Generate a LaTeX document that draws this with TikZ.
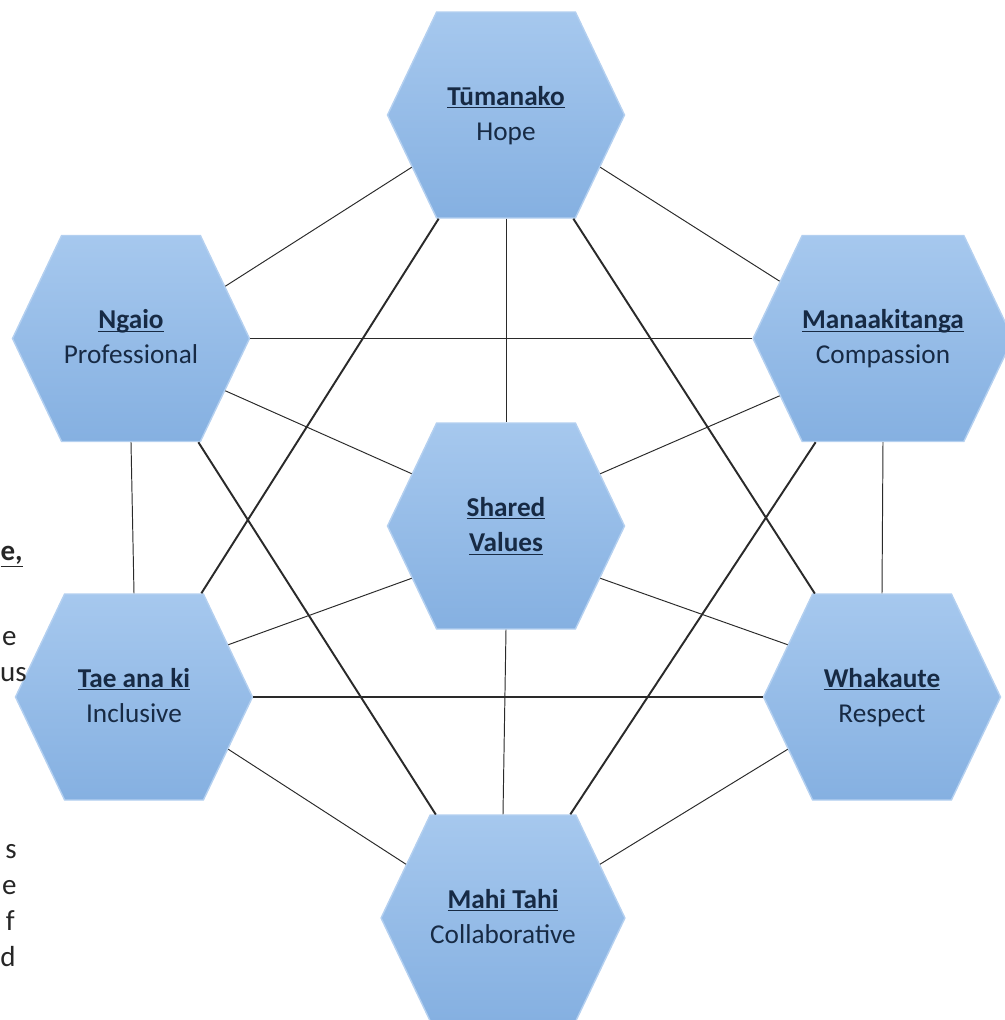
\documentclass[tikz,border=0pt]{standalone}
\usepackage{fontspec}
\setmainfont{Carlito}
\usetikzlibrary{shapes.symbols}
\definecolor{hextop}{HTML}{A6C8EE}
\definecolor{hexbottom}{HTML}{85B0E1}
\definecolor{hexedge}{HTML}{B4D0F0}
\definecolor{hextext}{HTML}{172A44}
\definecolor{linkgray}{HTML}{2A2A2A}
\newcommand{\hexul}[1]{\underline{\smash{\textbf{#1}}}}
\begin{document}
\begin{tikzpicture}[
  hexa/.style={
    signal,
    signal to=east and west,
    signal pointer angle=129,
    minimum width=4.74cm,
    minimum height=4.12cm,
    inner sep=0pt,
    text height=33pt,
    text depth=4pt,
    top color=hextop,
    bottom color=hexbottom,
    draw=hexedge,
    line width=0.8pt,
    align=center,
    text=hextext,
    font=\fontsize{15.5}{20}\selectfont
  },
  link/.style={draw=linkgray, line width=0.55pt},
  midlink/.style={draw=linkgray, line width=0.8pt},
  boldlink/.style={draw=linkgray, line width=1.1pt},
  side/.style={anchor=base east, inner sep=0pt, text=black!85, font=\fontsize{16.5}{20}\selectfont}
]
\useasboundingbox (0,0) rectangle (20.1,-20.4);
\node[hexa] (t) at (10.12,-2.30) {\hexul{Tūmanako}\\Hope};
\node[hexa] (n) at (2.62,-6.77) {\hexul{Ngaio}\\Professional};
\node[hexa] (m) at (17.66,-6.77) {\hexul{Manaakitanga}\\Compassion};
\node[hexa] (c) at (10.12,-10.52) {\hexul{Shared}\\\hexul{Values}};
\node[hexa] (l) at (2.68,-13.94) {\hexul{Tae ana ki}\\Inclusive};
\node[hexa] (w) at (17.64,-13.94) {\hexul{Whakaute}\\Respect};
\node[hexa] (b) at (10.06,-18.36) {\hexul{Mahi Tahi}\\Collaborative};
\node[side, font=\fontsize{16.5}{20}\selectfont\bfseries] (s1) at (0.46,-11.20) {\underline{e,}};
\node[side] (s2) at (0.34,-12.90) {e};
\node[side] (s3) at (0.54,-13.62) {us};
\node[side] (s4) at (0.34,-17.16) {s};
\node[side] (s5) at (0.34,-17.88) {e};
\node[side] (s6) at (0.30,-18.60) {f};
\node[side] (s7) at (0.32,-19.32) {d};
\draw[link] (t.209) -- (n.29);
\draw[link] (t.331) -- (m.151);
\draw[link] (t.south) -- (c.north);
\draw[boldlink] (t.237) -- (l.57);
\draw[boldlink] (t.303) -- (w.123);
\draw[midlink] (n.east) -- (m.west);
\draw[link] (n.331) -- (c.151);
\draw[link] (n.south) -- (l.north);
\draw[boldlink] (n.303) -- (b.123);
\draw[link] (m.209) -- (c.29);
\draw[link] (m.south) -- (w.north);
\draw[boldlink] (m.237) -- (b.57);
\draw[midlink] (l.east) -- (w.west);
\draw[link] (l.29) -- (c.209);
\draw[link] (w.151) -- (c.331);
\draw[link] (l.331) -- (b.151);
\draw[link] (w.209) -- (b.29);
\draw[link] (c.south) -- (b.north);
\end{tikzpicture}
\end{document}
